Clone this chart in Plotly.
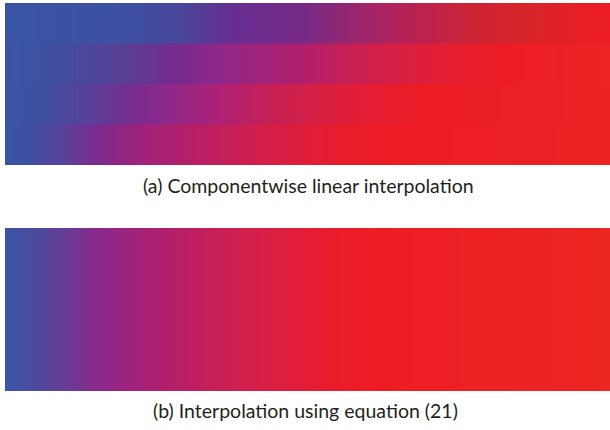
import numpy as np
import plotly.graph_objects as go

# Colour stops (position along the bar, colour) for each row of panel (a)
row1_pos = [0.0, 0.207, 0.289, 0.377, 0.496, 0.570, 0.653, 0.777, 0.876, 0.975, 1.0]
row1_col = ["#3A55A5", "#3D4FA1", "#4A4699", "#662D91", "#772A85", "#962671",
            "#B3225A", "#CD2334", "#D92428", "#EB1C24", "#ED1C24"]

row2_pos = [0.0, 0.074, 0.198, 0.281, 0.347, 0.446, 0.496, 0.562, 0.653, 0.769, 0.826, 1.0]
row2_col = ["#3A55A5", "#3E509F", "#5A3F96", "#742A8E", "#8E288C", "#A52276",
            "#B21F6C", "#C61F58", "#D81F42", "#E81D2B", "#ED1C24", "#EC2424"]

row3_pos = [0.0, 0.058, 0.129, 0.215, 0.264, 0.355, 0.438, 0.496, 0.587, 0.686, 1.0]
row3_col = ["#3A55A5", "#3E4FA0", "#55439A", "#7A2C8F", "#8D288C", "#AE2175",
            "#C61F56", "#D21F47", "#E21D35", "#EC1C25", "#EC2224"]

row4_pos = [0.0, 0.041, 0.091, 0.157, 0.240, 0.322, 0.421, 0.496, 0.562, 0.653, 1.0]
row4_col = ["#3A55A5", "#3F4FA0", "#55449A", "#80298E", "#A52178", "#B91F64",
            "#D21E4B", "#DF1D3A", "#EA1C2A", "#ED1C24", "#EC2224"]

# Colour stops for panel (b)
eq_pos = [0.0, 0.058, 0.107, 0.149, 0.223, 0.322, 0.421, 0.496, 0.554, 0.62, 1.0]
eq_col = ["#3A55A5", "#4F499C", "#6A3A94", "#882A8C", "#A42179", "#C11F5C",
          "#D61F49", "#E41C37", "#EC1C29", "#ED1C24", "#EC2623"]

captions = ["(a) Componentwise linear interpolation",
            "(b) Interpolation using equation (21)"]

W, H = 610, 430
n_cols = 605
t = np.linspace(0, 1, n_cols)

fig = go.Figure()

rows = [(row1_pos, row1_col), (row2_pos, row2_col),
        (row3_pos, row3_col), (row4_pos, row4_col)]
for k, (pos, col) in enumerate(rows):
    fig.add_trace(go.Heatmap(
        x=t, y=[k], z=[t], zmin=0, zmax=1,
        colorscale=[[p, c] for p, c in zip(pos, col)],
        showscale=False, hoverinfo="skip", xaxis="x", yaxis="y"))

fig.add_trace(go.Heatmap(
    x=t, y=[0], z=[t], zmin=0, zmax=1,
    colorscale=[[p, c] for p, c in zip(eq_pos, eq_col)],
    showscale=False, hoverinfo="skip", xaxis="x2", yaxis="y2"))

def px_x(v):
    return v / W

def px_y(v):
    return 1 - v / H

dx = 0.5 / (n_cols - 1)
common = dict(showgrid=False, zeroline=False, showticklabels=False, ticks="",
              showline=False, fixedrange=True)
cap_font = dict(family="Lato", size=19.5, color="#231F20")
fig.update_layout(
    width=W, height=H, margin=dict(l=0, r=0, t=0, b=0),
    paper_bgcolor="white", plot_bgcolor="white",
    xaxis=dict(domain=[px_x(5), 1], range=[-dx, 1 + dx], **common),
    yaxis=dict(domain=[px_y(165), px_y(3)], range=[3.5, -0.5], **common),
    xaxis2=dict(domain=[px_x(5), 1], range=[-dx, 1 + dx], anchor="y2", **common),
    yaxis2=dict(domain=[px_y(391), px_y(228)], range=[-0.5, 0.5], anchor="x2", **common),
    showlegend=False,
    annotations=[
        dict(text=captions[0], x=px_x(308), y=px_y(186), xref="paper", yref="paper",
             showarrow=False, xanchor="center", yanchor="middle", font=cap_font),
        dict(text=captions[1], x=px_x(305), y=px_y(410), xref="paper", yref="paper",
             showarrow=False, xanchor="center", yanchor="middle", font=cap_font),
    ],
)

fig.write_html("out.html")
